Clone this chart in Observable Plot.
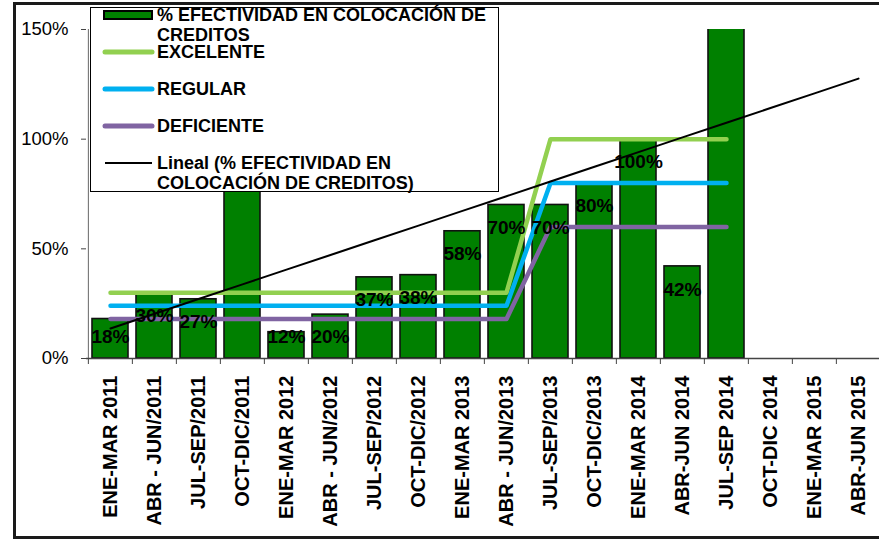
<!DOCTYPE html>
<html>
<head>
<meta charset="utf-8">
<script src="https://cdn.jsdelivr.net/npm/d3@7"></script>
<script src="https://cdn.jsdelivr.net/npm/@observablehq/plot@0.6"></script>
<style>
html, body { margin: 0; padding: 0; background: #fff; }
#wrap { position: relative; width: 879px; height: 540px; overflow: hidden; font-family: "Liberation Sans", Arial, sans-serif; }
#frame { position: absolute; left: 13px; top: 2px; width: 900px; height: 537px; border: 3px solid #1a1a1a; border-right: none; box-sizing: border-box; pointer-events: none; }
#chart { position: absolute; left: 0; top: 0; }
#legend { position: absolute; left: 90px; top: 7px; overflow: visible; }
</style>
</head>
<body>
<div id="wrap">
  <div id="chart"></div>
  <div id="frame"></div>
  <svg id="legend" width="410" height="186"></svg>
</div>
<script>
// ---- Data ----
const periodos = ["ENE-MAR 2011", "ABR - JUN/2011", "JUL-SEP/2011", "OCT-DIC/2011", "ENE-MAR 2012", "ABR - JUN/2012",
  "JUL-SEP/2012", "OCT-DIC/2012", "ENE-MAR 2013", "ABR - JUN/2013", "JUL-SEP/2013", "OCT-DIC/2013",
  "ENE-MAR 2014", "ABR-JUN 2014", "JUL-SEP 2014", "OCT-DIC 2014", "ENE-MAR 2015", "ABR-JUN 2015"];
const efectividad = [0.18, 0.30, 0.27, 1.09, 0.12, 0.20, 0.37, 0.38, 0.58, 0.70, 0.70, 0.80, 1.00, 0.42, 1.98, null, null, null];
const excelente = [0.30, 0.30, 0.30, 0.30, 0.30, 0.30, 0.30, 0.30, 0.30, 0.30, 1.00, 1.00, 1.00, 1.00, 1.00, null, null, null];
const regular = [0.24, 0.24, 0.24, 0.24, 0.24, 0.24, 0.24, 0.24, 0.24, 0.24, 0.80, 0.80, 0.80, 0.80, 0.80, null, null, null];
const deficiente = [0.18, 0.18, 0.18, 0.18, 0.18, 0.18, 0.18, 0.18, 0.18, 0.18, 0.60, 0.60, 0.60, 0.60, 0.60, null, null, null];
const yTicks = [0, 0.5, 1, 1.5];
const legendItems = [
  {kind: "bar", lines: ["% EFECTIVIDAD EN COLOCACIÓN DE", "CREDITOS"], color: "#008000"},
  {kind: "line", lines: ["EXCELENTE"], color: "#92D050"},
  {kind: "line", lines: ["REGULAR"], color: "#00B0F0"},
  {kind: "line", lines: ["DEFICIENTE"], color: "#8064A2"},
  {kind: "trend", lines: ["Lineal (% EFECTIVIDAD EN", "COLOCACIÓN DE CREDITOS)"], color: "#000"}
];

// ---- Derived tables ----
const rows = periodos.map((p, i) => ({periodo: p, idx: i + 1, v: efectividad[i], exc: excelente[i], reg: regular[i], def: deficiente[i]}));
const pts = rows.filter(d => d.v != null);
const mx = d3.mean(pts, d => d.idx), my = d3.mean(pts, d => d.v);
const slope = d3.sum(pts, d => (d.idx - mx) * (d.v - my)) / d3.sum(pts, d => (d.idx - mx) ** 2);
const intercept = my - slope * mx;
const trend = rows.map(d => ({periodo: d.periodo, t: intercept + slope * d.idx}));

const W = 884, left = 86;
const step = (W - 1 - left) / periodos.length;
const fmt = d3.format(".0%");

const chart = Plot.plot({
  width: W, height: 540,
  marginLeft: left, marginRight: 1, marginTop: 29, marginBottom: 182,
  style: {fontFamily: "'Liberation Sans', Arial, sans-serif", background: "transparent", color: "#000", maxWidth: "none", overflow: "visible"},
  x: {domain: periodos, paddingInner: 0.18, paddingOuter: 0.09},
  y: {domain: [0, 1.5]},
  marks: [
    Plot.barY(pts, {x: "periodo", y: "v", fill: "#008000", stroke: "#111", strokeWidth: 1.6, clip: true}),
    Plot.ruleX([periodos[0]], {dx: -step / 2, y1: 0, y2: 1.5, stroke: "#666", strokeWidth: 1}),
    Plot.ruleX(periodos, {dx: -step / 2, y1: 0, y2: 0, insetBottom: -6, stroke: "#444", strokeWidth: 1}),
    Plot.ruleY([0], {stroke: "#444", strokeWidth: 1.5}),
    Plot.line(rows.filter(d => d.exc != null), {x: "periodo", y: "exc", stroke: "#92D050", strokeWidth: 4.5, strokeLinecap: "round", strokeLinejoin: "round"}),
    Plot.line(rows.filter(d => d.reg != null), {x: "periodo", y: "reg", stroke: "#00B0F0", strokeWidth: 4.5, strokeLinecap: "round", strokeLinejoin: "round"}),
    Plot.line(rows.filter(d => d.def != null), {x: "periodo", y: "def", stroke: "#8064A2", strokeWidth: 4.5, strokeLinecap: "round", strokeLinejoin: "round"}),
    Plot.text(pts, {x: "periodo", y: d => Math.max(d.v - 0.105, 0.097), text: d => fmt(d.v), fontSize: 19, fontWeight: "bold", fill: "#000", clip: true}),
    Plot.line(trend, {x: "periodo", y: "t", stroke: "#000", strokeWidth: 2}),
    Plot.axisY({ticks: yTicks, tickFormat: fmt, tickSize: 5, tickPadding: 13, fontSize: 18.5, stroke: "#444", label: null}),
    Plot.axisX({tickRotate: -90, tickSize: 0, tickPadding: 17, fontSize: 20, fontWeight: "bold", label: null})
  ]
});
chart.style.maxWidth = "none";
document.getElementById("chart").appendChild(chart);

// ---- Legend (overlay, as in the original) ----
const lg = d3.select("#legend");
lg.append("rect").attr("x", 0.5).attr("y", 0.5).attr("width", 408).attr("height", 184)
  .attr("fill", "#fff").attr("stroke", "#000").attr("stroke-width", 1);
const rowY = [14, 45, 82, 119, 156];
legendItems.forEach((it, i) => {
  const cy = rowY[i];
  if (it.kind === "bar") {
    lg.append("rect").attr("x", 14).attr("y", cy - 10).attr("width", 48).attr("height", 8)
      .attr("fill", it.color).attr("stroke", "#000").attr("stroke-width", 2);
  } else {
    lg.append("line").attr("x1", 15).attr("x2", 62).attr("y1", cy).attr("y2", cy)
      .attr("stroke", it.color).attr("stroke-width", it.kind === "trend" ? 2 : 5).attr("stroke-linecap", it.kind === "trend" ? "butt" : "round");
  }
  it.lines.forEach((t, j) => {
    lg.append("text").attr("x", 67).attr("y", (it.kind === "bar" ? cy : cy + 6) + j * 20)
      .attr("font-family", "'Liberation Sans', Arial, sans-serif").attr("font-size", 18)
      .attr("font-weight", "bold").attr("fill", "#000").text(t);
  });
});
</script>
</body>
</html>
